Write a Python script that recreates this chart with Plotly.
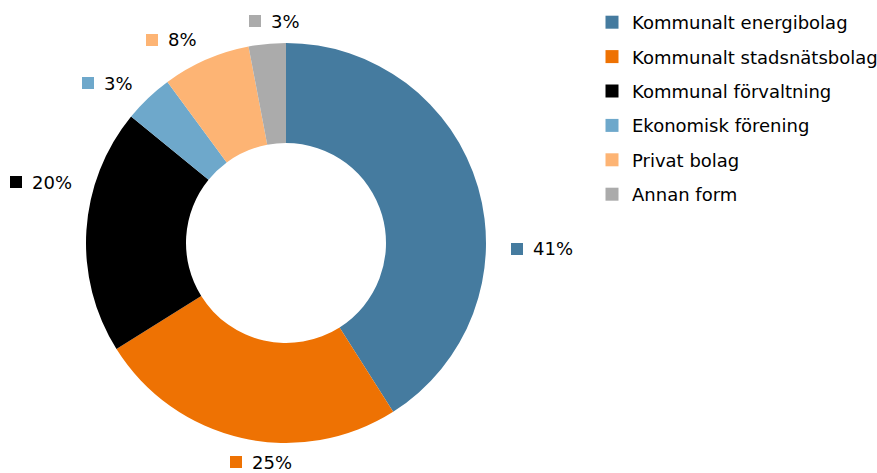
import plotly.graph_objects as go

categories = ["Kommunalt energibolag", "Kommunalt stadsnätsbolag", "Kommunal förvaltning",
              "Ekonomisk förening", "Privat bolag", "Annan form"]
values = [41.0, 25.1, 19.8, 4.0, 7.1, 3.0]
value_labels = ["41%", "25%", "20%", "3%", "8%", "3%"]
colors = ["#457B9F", "#EE7203", "#000000", "#6EA8CB", "#FDB474", "#ABABAB"]

W, H = 877, 473
# label anchor (left of square, vertical centre) in pixels
label_px = [(511, 249), (230, 462), (10, 182), (82, 83), (146, 40), (249, 21)]

FONT = "DejaVu Sans"
FS = 18

fig = go.Figure()
fig.add_trace(go.Pie(
    labels=categories, values=values, sort=False, direction="clockwise", rotation=0,
    hole=0.5, marker=dict(colors=colors, line=dict(width=0)),
    textinfo="none", hoverinfo="label+percent", showlegend=False,
    domain=dict(x=[86 / W, 486 / W], y=[1 - 443 / H, 1 - 43 / H]),
))
# legend entries (one group each so the gap between entries can be set)
for cat, c in zip(categories, colors):
    fig.add_trace(go.Scatter(x=[None], y=[None], mode="markers", name=cat,
                             legendgroup=cat, showlegend=True, hoverinfo="skip",
                             marker=dict(symbol="square", size=13, color=c, line=dict(width=0))))

shapes = []
annotations = []
for (px, py), lab, c in zip(label_px, value_labels, colors):
    shapes.append(dict(type="rect", xref="paper", yref="paper",
                       x0=px / W, x1=(px + 12) / W, y0=1 - (py + 6) / H, y1=1 - (py - 6) / H,
                       fillcolor=c, line=dict(width=0)))
    annotations.append(dict(xref="paper", yref="paper", x=(px + 20) / W, y=1 - py / H,
                            xanchor="left", yanchor="middle", showarrow=False, text=lab,
                            font=dict(family=FONT, size=FS, color="#000000")))

fig.update_layout(
    width=W, height=H, margin=dict(l=0, r=0, t=0, b=0, autoexpand=False),
    paper_bgcolor="white", plot_bgcolor="white",
    font=dict(family=FONT, size=FS, color="#000000"),
    xaxis=dict(visible=False), yaxis=dict(visible=False),
    showlegend=True,
    legend=dict(x=592 / W, y=1 - 4 / H, xanchor="left", yanchor="top",
                font=dict(family=FONT, size=FS), tracegroupgap=8, itemwidth=30,
                bgcolor="rgba(0,0,0,0)"),
    shapes=shapes, annotations=annotations,
)

fig.write_html("out.html", config={"displayModeBar": False},
               post_script="document.body.style.margin='0px';")
